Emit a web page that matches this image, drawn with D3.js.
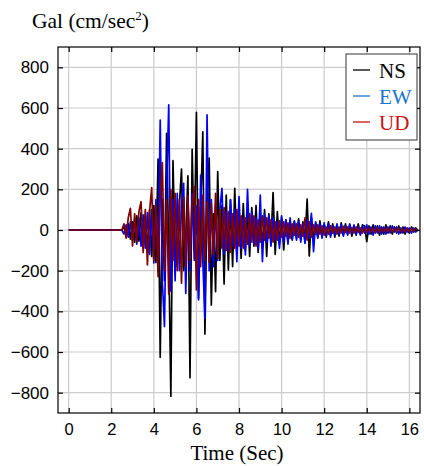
<!DOCTYPE html>
<html>
<head>
<meta charset="utf-8">
<script src="https://cdn.jsdelivr.net/npm/d3@7"></script>
<style>
  body { margin: 0; background: #fff; }
  svg { display: block; }
</style>
</head>
<body>
<svg id="chart"></svg>
<script>
// record values (Gal), sampled every 0.1 s from 2.5 s; before that the trace is flat at 0
const startTime = 2.5;
const step = 0.1;

const ns = [
  0, 15, -20, 30, -45, 40, -60, 70, -55, 85, -90, 75, -110, 100, -130, 120, -160, 349, -626, 150,
  -250, 475, -100, -817, 341, -120, -180, 120, 300, -200, -40, 266, -726, 397, -100, 579, -336, 100, 483, -512,
  150, 353, -369, 80, -303, 287, -150, 120, -266, 172, -197, 148, -180, 205, -120, 100, -140, 130, -100, 90,
  -130, 110, -80, 120, -110, 70, -90, 100, -130, 80, -60, 184, -120, 90, -70, 60, -98, 50, -60, 40,
  -50, 45, -40, 55, -45, 40, -60, 152, -128, 60, -50, 35, -40, 45, -30, 25, -35, 40, -25, 30,
  -35, 20, -30, 35, -25, 30, -20, 25, -30, 20, -25, 30, -20, 25, 20, -57, 20, -20, 25, -15,
  20, -25, 15, -20, 25, -15, 20, -20, 15, -15, 20, -15, 15, -20, 10, -15, 15, -10, 10, -5
];

const ew = [
  0, -20, 25, -35, 40, -50, 55, -70, 60, -80, 75, -90, 85, -120, 100, -162, 150, -200, 541, -250,
  -475, 200, 615, -300, 150, -250, 180, -200, 120, 230, -312, 150, -200, 180, -150, 120, -344, 270, -150, -434,
  566, -200, 150, -180, 120, -150, 100, 205, -120, 90, -100, 150, -80, 100, -156, 164, -90, 60, -123, 200,
  -80, 90, -70, 60, -90, 172, -156, 80, -60, 70, -80, 60, -50, 40, -90, 70, -60, 50, -70, 60,
  -45, 40, -50, 45, -60, 30, -66, 50, -40, 82, -107, 40, -35, 30, -40, 35, -25, 30, -35, 20,
  -25, 30, -20, 25, -30, 20, -25, 30, -15, 25, -20, 15, -25, 20, -15, 25, -20, 15, -25, 20,
  -15, 20, -20, 15, -20, 15, -15, 20, -10, 15, -20, 10, -15, 15, -10, 10, -15, 10, -10, 5
];

const ud = [
  0, 30, -40, 60, 107, -79, 80, -60, 90, 139, -111, 100, -172, 90, 208, -150, 120, -230, 150, 331,
  -200, 150, -316, 200, -150, 180, -200, 150, -262, 160, -180, 170, -150, 120, 213, -295, 150, -180, 170, -150,
  140, -160, 130, -120, 180, -140, 100, -90, 110, -100, 90, -110, 80, -90, 100, -80, 70, -90, 60, -70,
  80, -60, 70, -80, 50, -60, 70, -50, 60, -40, 50, -60, 40, -50, 45, -35, 40, -30, 35, -40,
  30, -25, 30, -35, 25, -30, 60, -50, 40, -35, 25, -20, 25, -20, 20, -25, 15, -20, 20, -15,
  15, -20, 15, -15, 18, -12, 15, -15, 12, -15, 15, -12, 10, -15, 12, -10, 12, -12, 10, -10,
  12, -10, 8, -10, 10, -8, 10, -10, 8, -8, 10, -8, 8, -10, 6, -8, 8, -6, 6, -4
];

const seriesNames = ["NS", "EW", "UD"];
const lineColors = ["#000000", "#0000ff", "#800000"];
const legendColors = ["#000000", "#1874cd", "#cc1111"];
const xTicks = [0, 2, 4, 6, 8, 10, 12, 14, 16];
const yTicks = [-800, -600, -400, -200, 0, 200, 400, 600, 800];

const width = 424, height = 466;
const margin = {top: 47, right: 4, bottom: 53, left: 58};
const iw = width - margin.left - margin.right;
const ih = height - margin.top - margin.bottom;

const svg = d3.select("#chart").attr("width", width).attr("height", height);
const g = svg.append("g").attr("transform", `translate(${margin.left},${margin.top})`);

const x = d3.scaleLinear().domain([-0.5, 16.5]).range([0, iw]);
const y = d3.scaleLinear().domain([-900, 900]).range([ih, 0]);

// grid
g.append("g").selectAll("line").data(xTicks).enter().append("line")
  .attr("x1", d => x(d)).attr("x2", d => x(d)).attr("y1", 0).attr("y2", ih)
  .attr("stroke", "#cccccc").attr("stroke-width", 1.2);
g.append("g").selectAll("line").data(yTicks).enter().append("line")
  .attr("y1", d => y(d)).attr("y2", d => y(d)).attr("x1", 0).attr("x2", iw)
  .attr("stroke", "#cccccc").attr("stroke-width", 1.2);

// traces
const toPoints = vals => [[0, 0]].concat(vals.map((v, i) => [startTime + i * step, v]));
const line = d3.line().x(d => x(d[0])).y(d => y(d[1]));
const defs = svg.append("defs");
defs.append("clipPath").attr("id", "clip").append("rect").attr("width", iw).attr("height", ih);
const traces = g.append("g").attr("clip-path", "url(#clip)");
[ns, ew, ud].forEach((vals, k) => {
  traces.append("path")
    .datum(toPoints(vals))
    .attr("d", line)
    .attr("fill", "none")
    .attr("stroke", lineColors[k])
    .attr("stroke-width", 1.7)
    .attr("stroke-linejoin", "round");
});

// axes with inward ticks
const tickFont = "'Liberation Sans', Arial, sans-serif";
const xb = g.append("g").attr("transform", `translate(0,${ih})`)
  .call(d3.axisBottom(x).tickValues(xTicks).tickSizeInner(-5).tickSizeOuter(0).tickPadding(10));
const xt = g.append("g")
  .call(d3.axisTop(x).tickValues(xTicks).tickSizeInner(-5).tickSizeOuter(0).tickFormat(""));
const yl = g.append("g")
  .call(d3.axisLeft(y).tickValues(yTicks).tickSizeInner(-5).tickSizeOuter(0).tickPadding(9)
    .tickFormat(d => d < 0 ? "\u2212" + Math.abs(d) : d));
const yr = g.append("g").attr("transform", `translate(${iw},0)`)
  .call(d3.axisRight(y).tickValues(yTicks).tickSizeInner(-5).tickSizeOuter(0).tickFormat(""));
[xb, xt, yl, yr].forEach(a => {
  a.select(".domain").remove();
  a.selectAll(".tick line").attr("stroke", "#000").attr("stroke-width", 1.2);
});
xb.selectAll("text").attr("font-family", tickFont).attr("font-size", 16.5).attr("fill", "#000");
yl.selectAll("text").attr("font-family", tickFont).attr("font-size", 17).attr("fill", "#000");

g.append("rect").attr("width", iw).attr("height", ih)
  .attr("fill", "none").attr("stroke", "#000").attr("stroke-width", 1.2);

// titles
const serif = "'Liberation Serif', 'Times New Roman', serif";
const title = svg.append("text").attr("x", 32).attr("y", 28)
  .attr("font-family", serif).attr("font-size", 21.5).attr("fill", "#000");
title.append("tspan").text("Gal (cm/sec");
title.append("tspan").attr("font-size", 13).attr("dy", -8).text("2");
title.append("tspan").attr("dy", 8).text(")");

svg.append("text").attr("x", 237).attr("y", 460).attr("text-anchor", "middle")
  .attr("font-family", serif).attr("font-size", 21).attr("fill", "#000")
  .text("Time (Sec)");

// legend
const leg = svg.append("g").attr("transform", "translate(346,54)");
leg.append("rect").attr("width", 71).attr("height", 86)
  .attr("fill", "#fff").attr("stroke", "#333").attr("stroke-width", 1);
seriesNames.forEach((name, k) => {
  const row = leg.append("g").attr("transform", `translate(0,${16 + k * 26})`);
  row.append("line").attr("x1", 7).attr("x2", 24).attr("y1", 0).attr("y2", 0)
    .attr("stroke", legendColors[k]).attr("stroke-width", 1.3);
  row.append("text").attr("x", 33).attr("y", 7.5)
    .attr("font-family", serif).attr("font-size", 21).attr("fill", legendColors[k])
    .text(name);
});
</script>
</body>
</html>
